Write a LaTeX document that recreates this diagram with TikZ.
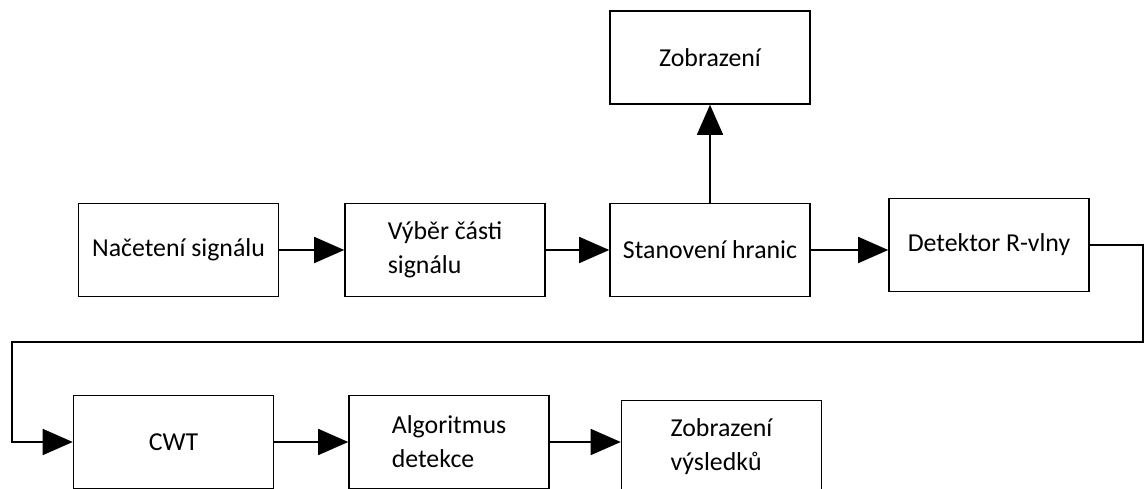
\documentclass[tikz,border=0pt]{standalone}
\usepackage{fontspec}
\setmainfont{Carlito}
\usetikzlibrary{arrows.meta}

\tikzset{
	blok/.style={draw,line width=0.9pt,minimum width=4cm,minimum height=1.86cm,align=left,
		font=\fontsize{14.7}{19.4}\selectfont},
	tok/.style={line width=0.9pt,-{Triangle[length=0.6cm,width=0.52cm]}}
}

\begin{document}
\begin{tikzpicture}[x=0.02cm,y=-0.02cm]
\useasboundingbox (0,0) rectangle (1145,489);
		\node[blok] (load) at (178.5,250) {Načetení signálu};
		\node[blok] (select) at (445,250) {Výběr části\\signálu};
		\node[blok] (bounds) at (710,250) {Stanovení hranic};
		\node[blok] (detect) at (989,245) {Detektor R-vlny};
		\node[blok] (show) at (710,57.5) {Zobrazení};
		\node[blok] (cwt) at (173.5,442) {CWT};
		\node[blok] (algo) at (449,442) {Algoritmus\\detekce};
		\node[blok] (result) at (721.5,447) {Zobrazení\\výsledků};
		\coordinate (E1) at (1143,342);
		\coordinate (E2) at (12,342);
		\draw[tok] (load) -- (select);
		\draw[tok] (select) -- (bounds);
		\draw[tok] (bounds.east) -- (bounds.east -| detect.west);
		\draw[tok] (bounds) -- (show);
		%\draw[tok] (detect) -- (cwt);
		\draw[tok] (detect.east) -| (E1) -- (E2) |- (cwt.west);
		\draw[tok] (cwt) -- (algo);
		\draw[tok] (algo.east) -- (algo.east -| result.west);
\end{tikzpicture}
\end{document}
